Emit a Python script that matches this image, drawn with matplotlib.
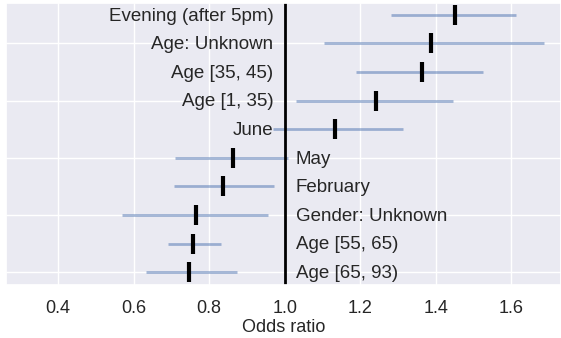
import numpy as np
import matplotlib
matplotlib.use("Agg")
import matplotlib.pyplot as plt
import seaborn as sns

# Volgorde van onder naar boven
labels = ["Age [65, 93)", "Age [55, 65)", "Gender: Unknown", "February", "May",
          "June", "Age [1, 35)", "Age [35, 45)", "Age: Unknown", "Evening (after 5pm)"]
odds = [0.747, 0.758, 0.765, 0.837, 0.864, 1.134, 1.242, 1.364, 1.388, 1.452]
ci_laag = [0.633, 0.691, 0.569, 0.707, 0.710, 0.970, 1.030, 1.189, 1.105, 1.282]
ci_hoog = [0.874, 0.832, 0.956, 0.972, 1.009, 1.314, 1.446, 1.526, 1.687, 1.613]
x_ticks = [0.4, 0.6, 0.8, 1.0, 1.2, 1.4, 1.6]

sns.set_theme(style="darkgrid")
plt.rcParams["font.family"] = ["Liberation Sans", "DejaVu Sans"]

fig = plt.figure(figsize=(5.61, 3.38), dpi=100)
ax = fig.add_axes([6 / 561, 53 / 338, 555 / 561, 282 / 338])

y = np.arange(len(labels))
ax.hlines(y, ci_laag, ci_hoog, color="#4c72b0", alpha=0.5, linewidth=2)
ax.plot(odds, y, linestyle="none", marker="|", color="black",
        markersize=14, markeredgewidth=3)
ax.axvline(1.0, color="black", linewidth=2)

for yi, lab, o in zip(y, labels, odds):
    if o > 1:
        ax.text(0.97, yi - 0.05, lab, ha="right", va="center", fontsize=13.5, color="0.15")
    else:
        ax.text(1.03, yi - 0.05, lab, ha="left", va="center", fontsize=13.5, color="0.15")

ax.set_xticks(x_ticks)
ax.set_xlim(0.262, 1.732)
ax.set_ylim(-0.45, 9.41)
ax.set_yticks([0, 2, 4, 6, 8])
ax.set_yticklabels([])
ax.tick_params(axis="x", labelsize=13, pad=5)
ax.set_xlabel("Odds ratio", fontsize=13, labelpad=1)

fig.savefig("out.png")
